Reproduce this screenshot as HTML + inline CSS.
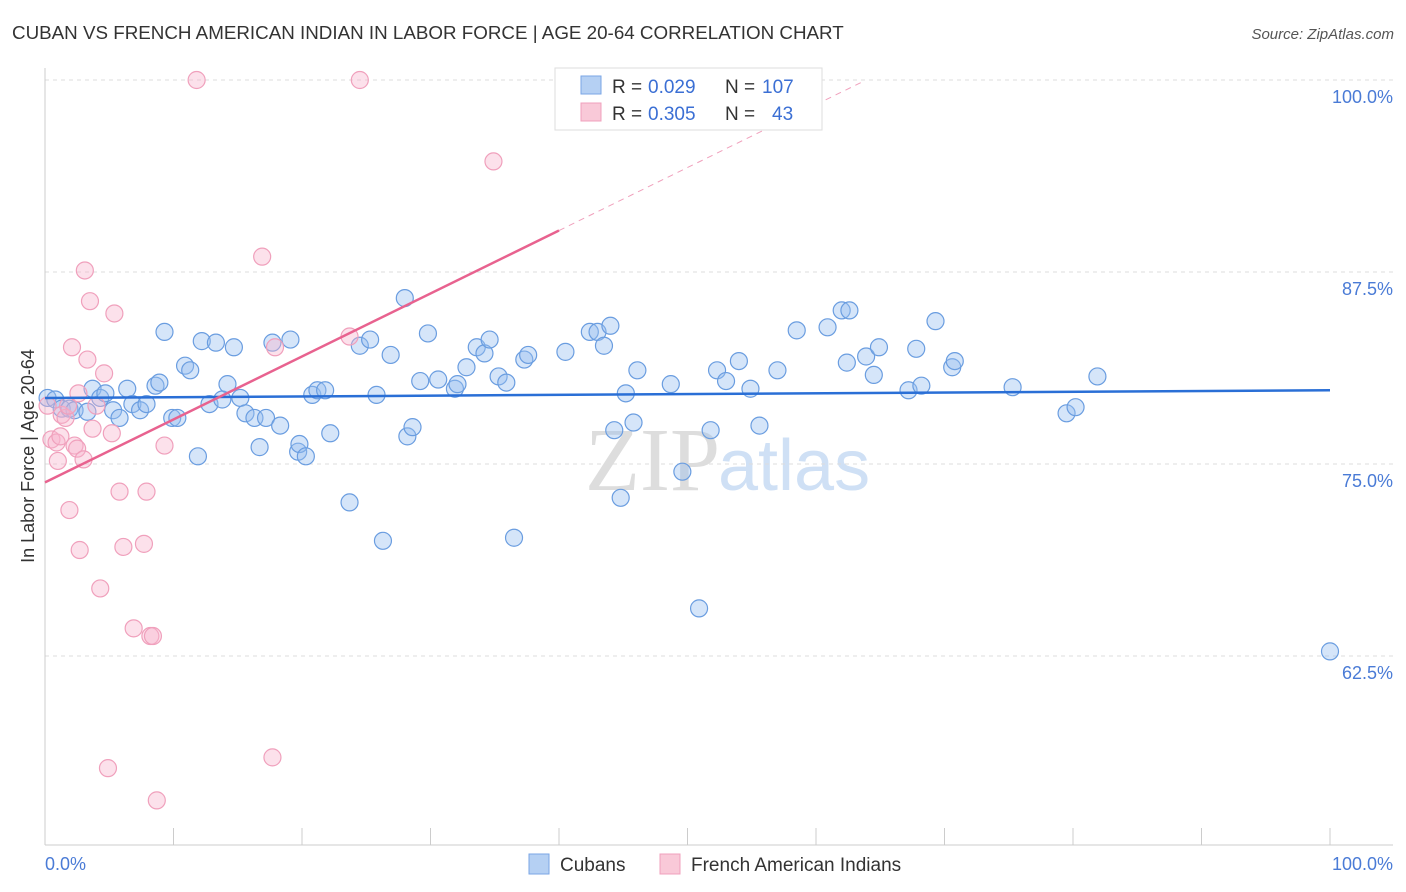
<!DOCTYPE html>
<html><head><meta charset="utf-8"><style>
body{margin:0;background:#fff;font-family:"Liberation Sans",sans-serif}
svg{display:block}
</style></head><body>
<svg id="c" width="1406" height="892" xmlns="http://www.w3.org/2000/svg">
<text x="12" y="39" font-size="18.8" fill="#333">CUBAN VS FRENCH AMERICAN INDIAN IN LABOR FORCE | AGE 20-64 CORRELATION CHART</text>
<text x="1394" y="39" font-size="15" fill="#555" font-style="italic" text-anchor="end">Source: ZipAtlas.com</text>
<text x="720" y="490" font-size="90" fill="#ddd" font-family="Liberation Serif" text-anchor="end">ZIP</text>
<text x="718" y="490" font-size="72" fill="#cfe0f5">atlas</text>
<g id="grid"></g><g id="pts"></g><g id="lines"></g>
<text transform="translate(34,456) rotate(-90)" font-size="18" fill="#333" text-anchor="middle">In Labor Force | Age 20-64</text>
<text x="45" y="870" font-size="18" fill="#4a7bd6">0.0%</text>
<text x="1393" y="870" font-size="18" fill="#4a7bd6" text-anchor="end">100.0%</text>
<g>
<rect x="555" y="68" width="267" height="62" fill="#fff" stroke="#ddd"/>
<rect x="581" y="76" width="20" height="18" fill="#b5d0f3" stroke="#7aa6e6"/>
<rect x="581" y="103" width="20" height="18" fill="#f9c9d8" stroke="#f0a0bc"/>
<text x="612" y="93" font-size="19" fill="#333">R =</text>
<text x="648" y="93" font-size="19" fill="#3b6fd4">0.029</text>
<text x="725" y="93" font-size="19" fill="#333">N =</text>
<text x="762" y="93" font-size="19" fill="#3b6fd4">107</text>
<text x="612" y="120" font-size="19" fill="#333">R =</text>
<text x="648" y="120" font-size="19" fill="#3b6fd4">0.305</text>
<text x="725" y="120" font-size="19" fill="#333">N =</text>
<text x="772" y="120" font-size="19" fill="#3b6fd4">43</text>
</g>
<g>
<rect x="529" y="854" width="20" height="20" fill="#b5d0f3" stroke="#7aa6e6"/>
<text x="560" y="871" font-size="19" fill="#333">Cubans</text>
<rect x="660" y="854" width="20" height="20" fill="#f9c9d8" stroke="#f0a0bc"/>
<text x="691" y="871" font-size="19" fill="#333">French American Indians</text>
</g>
</svg>
<script>
const yTicks=[100,87.5,75,62.5];
const yTickLabels=["100.0%","87.5%","75.0%","62.5%"];
const blueX=[0.2,0.8,1.3,1.9,2.3,3.3,3.7,4.3,4.7,5.3,5.8,6.4,6.8,7.4,7.9,8.6,8.9,9.3,9.9,10.3,10.9,11.3,11.9,12.2,12.8,13.3,13.8,14.2,14.7,15.2,15.6,16.3,16.7,17.2,17.7,18.3,19.1,19.7,19.8,20.3,20.8,21.2,21.8,22.2,23.7,24.5,25.3,25.8,26.3,26.9,28.0,28.2,28.6,29.2,29.8,30.6,31.9,32.1,32.8,33.6,34.2,34.6,35.3,35.9,36.5,37.3,37.6,40.5,42.4,43.0,43.5,44.0,44.3,44.8,45.2,45.8,46.1,48.7,49.6,50.9,51.8,52.3,53.0,54.0,54.9,55.6,57.0,58.5,60.9,62.0,62.6,62.4,63.9,64.5,64.9,67.2,67.8,68.2,69.3,70.6,70.8,75.3,79.5,80.2,81.9,100];
const blueY=[79.3,79.2,78.6,78.6,78.5,78.4,79.9,79.3,79.6,78.5,78.0,79.9,78.9,78.5,78.9,80.1,80.3,83.6,78.0,78.0,81.4,81.1,75.5,83.0,78.9,82.9,79.2,80.2,82.6,79.3,78.3,78.0,76.1,78.0,82.9,77.5,83.1,75.8,76.3,75.5,79.5,79.8,79.8,77.0,72.5,82.7,83.1,79.5,70.0,82.1,85.8,76.8,77.4,80.4,83.5,80.5,79.9,80.2,81.3,82.6,82.2,83.1,80.7,80.3,70.2,81.8,82.1,82.3,83.6,83.6,82.7,84.0,77.2,72.8,79.6,77.7,81.1,80.2,74.5,65.6,77.2,81.1,80.4,81.7,79.9,77.5,81.1,83.7,83.9,85.0,85.0,81.6,82.0,80.8,82.6,79.8,82.5,80.1,84.3,81.3,81.7,80.0,78.3,78.7,80.7,62.8];
const pinkX=[0.2,0.5,0.9,1.0,1.2,1.3,1.6,1.8,1.9,2.1,2.3,2.5,2.6,2.7,3.0,3.1,3.3,3.5,3.7,4.0,4.3,4.6,4.9,5.2,5.4,5.8,6.1,6.9,7.7,7.9,8.2,8.4,8.7,9.3,11.8,16.9,17.7,17.9,23.7,24.5,34.9];
const pinkY=[78.8,76.6,76.4,75.2,76.8,78.2,78.0,78.8,72.0,82.6,76.2,76.0,79.6,69.4,75.3,87.6,81.8,85.6,77.3,78.8,66.9,80.9,55.2,77.0,84.8,73.2,69.6,64.3,69.8,73.2,63.8,63.8,53.1,76.2,100,88.5,55.9,82.6,83.3,100,94.7];
const blueTrend=[79.3,79.8];
const pinkTrend=[73.8,0.41];
const NS="http://www.w3.org/2000/svg";
const X=v=>45+v*12.85, Y=v=>80+(100-v)*15.36;
function mk(t,a,p){const e=document.createElementNS(NS,t);for(const k in a)e.setAttribute(k,a[k]);p.appendChild(e);return e;}
const g=document.getElementById('grid');
yTicks.forEach((t,i)=>{
 const l=mk('line',{x1:45,x2:1393,y1:Y(t),y2:Y(t),stroke:'#ddd','stroke-dasharray':'4,4'},g);
 
 
 const tx=mk('text',{x:1393,y:Y(t)+23,'font-size':18,fill:'#4a7bd6','text-anchor':'end'},g);
 tx.textContent=yTickLabels[i];
 
 
});
const ax=mk('line',{x1:45,x2:1393,y1:845,y2:845,stroke:'#ccc'},g);


const ay=mk('line',{x1:45,x2:45,y1:68,y2:845,stroke:'#ccc'},g);


for(let i=0;i<=10;i++){const t=mk('line',{x1:X(i*10),x2:X(i*10),y1:828,y2:845,stroke:'#ccc'},g);
 
 }
const p=document.getElementById('pts');
blueX.forEach((x,i)=>{const c=mk('circle',{cx:X(x),cy:Y(blueY[i]),r:8.5,fill:'rgba(150,190,240,0.4)',stroke:'#6a9de0','stroke-width':1.2},p);
 
 });
pinkX.forEach((x,i)=>{const c=mk('circle',{cx:X(x),cy:Y(pinkY[i]),r:8.5,fill:'rgba(248,180,205,0.4)',stroke:'#f0a0bc','stroke-width':1.2},p);
 
 });
const L=document.getElementById('lines');
const bl=mk('line',{x1:X(0),x2:X(100),y1:Y(blueTrend[0]),y2:Y(blueTrend[1]),stroke:'#2a6fd6','stroke-width':2.5},L);


const pf=v=>pinkTrend[0]+pinkTrend[1]*v;
const pl=mk('line',{x1:X(0),x2:X(40),y1:Y(pf(0)),y2:Y(pf(40)),stroke:'#e8628f','stroke-width':2.5},L);


const pd=mk('line',{x1:X(40),x2:X(63.7),y1:Y(pf(40)),y2:Y(pf(63.7)),stroke:'#f0a0bc','stroke-width':1,'stroke-dasharray':'6,5'},L);


</script>
</body></html>
